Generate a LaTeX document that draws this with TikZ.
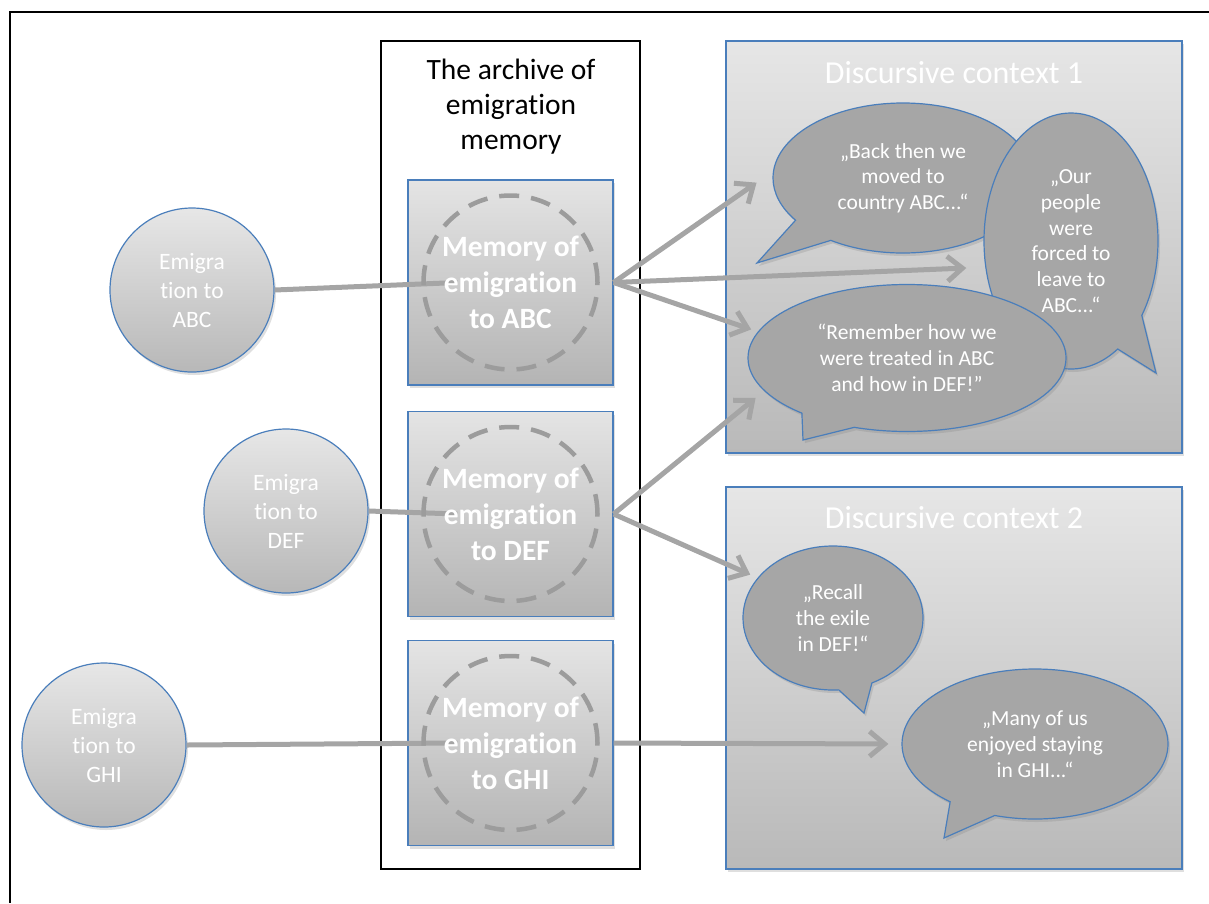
\documentclass[tikz,border=0pt]{standalone}
\usepackage{fontspec}
\setmainfont{Carlito}[Ligatures=NoCommon]
\usetikzlibrary{arrows.meta,shapes.callouts,shadows}

\definecolor{frameblue}{HTML}{4A7EBB}
\definecolor{memtop}{HTML}{E4E4E4}
\definecolor{membot}{HTML}{B4B4B4}
\definecolor{ctxtop}{HTML}{E6E6E6}
\definecolor{ctxbot}{HTML}{B9B9B9}
\definecolor{bubblegray}{HTML}{A6A6A6}
\definecolor{flowgray}{HTML}{A5A5A5}
\definecolor{dashgray}{HTML}{9C9C9C}

\begin{document}
\begin{tikzpicture}[x=1pt,y=-1pt,
	softshadow/.style={drop shadow={opacity=0.25,shadow xshift=2pt,shadow yshift=-3pt}},
	membox/.style={draw=frameblue, line width=1.2, top color=memtop, bottom color=membot,
		minimum width=205, minimum height=205, inner sep=0, softshadow},
	ctxbox/.style={draw=frameblue, line width=1.2, top color=ctxtop, bottom color=ctxbot,
		minimum width=456, inner sep=0, softshadow},
	emicircle/.style={circle, draw=frameblue, line width=1.2, top color=memtop!90!white, bottom color=membot!95!white,
		minimum size=164, inner sep=0, text=white, align=center, font=\fontsize{23.5}{29}\selectfont, softshadow},
	memcircle/.style={circle, draw=dashgray, line width=4.5, dash pattern=on 20pt off 12pt,
		minimum size=174, inner sep=0, text=white, align=center, font=\fontsize{29.5}{36}\selectfont\bfseries},
	bubble/.style={ellipse callout, draw=frameblue, line width=1.2, fill=bubblegray, inner sep=0,
		text=white, align=center, font=\fontsize{21.5}{25.7}\selectfont, callout pointer arc=22, softshadow},
	ctxtitle/.style={text=white, font=\fontsize{32}{38}\selectfont},
	feed/.style={draw=flowgray, line width=5},
	flow/.style={draw=flowgray, line width=5, -{Straight Barb[length=15pt,width=25pt]}}
]
\useasboundingbox (0,0) rectangle (1209,903);

% page frame
\draw[line width=1.5] (1209,12) -- (10,12) -- (10,903);

% the archive
\node[draw, line width=1.3, minimum width=259, minimum height=828, inner sep=0] (archive) at (510.5,455) {};
\node[align=center, font=\fontsize{29.5}{35}\selectfont] (atitle) at (511,107) {The archive of\\emigration\\memory};

% discursive contexts
\node[ctxbox, minimum height=412] (ctx1) at (954,247) {};
\node[ctxbox, minimum height=382] (ctx2) at (954,678) {};
\node[ctxtitle] (t1) at (954,73) {Discursive context 1};
\node[ctxtitle] (t2) at (954,518) {Discursive context 2};

% speech bubbles
\node[bubble, minimum width=260, minimum height=150, callout absolute pointer={(757,263)}] (b1) at (903,178)
	{„Back then we\\moved to\\country ABC...“};
\node[bubble, minimum width=174, minimum height=256, callout absolute pointer={(1156,373)}] (b2) at (1071,241)
	{„Our\\people\\were\\forced to\\leave to\\ABC...“};
\node[bubble, minimum width=318, minimum height=147, callout absolute pointer={(803,440)}] (b3) at (907,358)
	{“Remember how we\\were treated in ABC\\and how in DEF!”};
\node[bubble, minimum width=180, minimum height=144, callout absolute pointer={(864,713)}] (b4) at (833,618)
	{„Recall\\the exile\\in DEF!“};
\node[bubble, minimum width=266, minimum height=150, callout absolute pointer={(944,838)}] (b5) at (1035,744)
	{„Many of us\\enjoyed staying\\in GHI...“};

% emigrations and their memories
\foreach \i/\ex/\ey/\my/\dest in {1/192/290/282.5/ABC, 2/286/511/514/DEF, 3/104/745/743/GHI} {
	\node[membox] (m\i) at (510.5,\my) {};
	\node[emicircle] (e\i) at (\ex,\ey) {Emigra\\tion to\\\dest};
	\draw[feed] (e\i.east) -- ([xshift=50pt]m\i.west);
	\node[memcircle] (d\i) at (m\i) {Memory of\\emigration\\to \dest};
}

% memories feeding the discourses
\draw[flow, shorten >=20pt] (m1.east) -- (b1.177);
\draw[flow, shorten >=19pt] (m1.east) -- (b2.197);
\draw[flow, shorten >=7pt] (m1.east) -- (b3.170);
\draw[flow, shorten >=11pt] (m2.east) -- (b3.193);
\draw[flow, shorten >=8pt] (m2.east) -- (b4.152);
\draw[flow, shorten >=13pt] (m3.east) -- (b5.west);

\end{tikzpicture}
\end{document}
